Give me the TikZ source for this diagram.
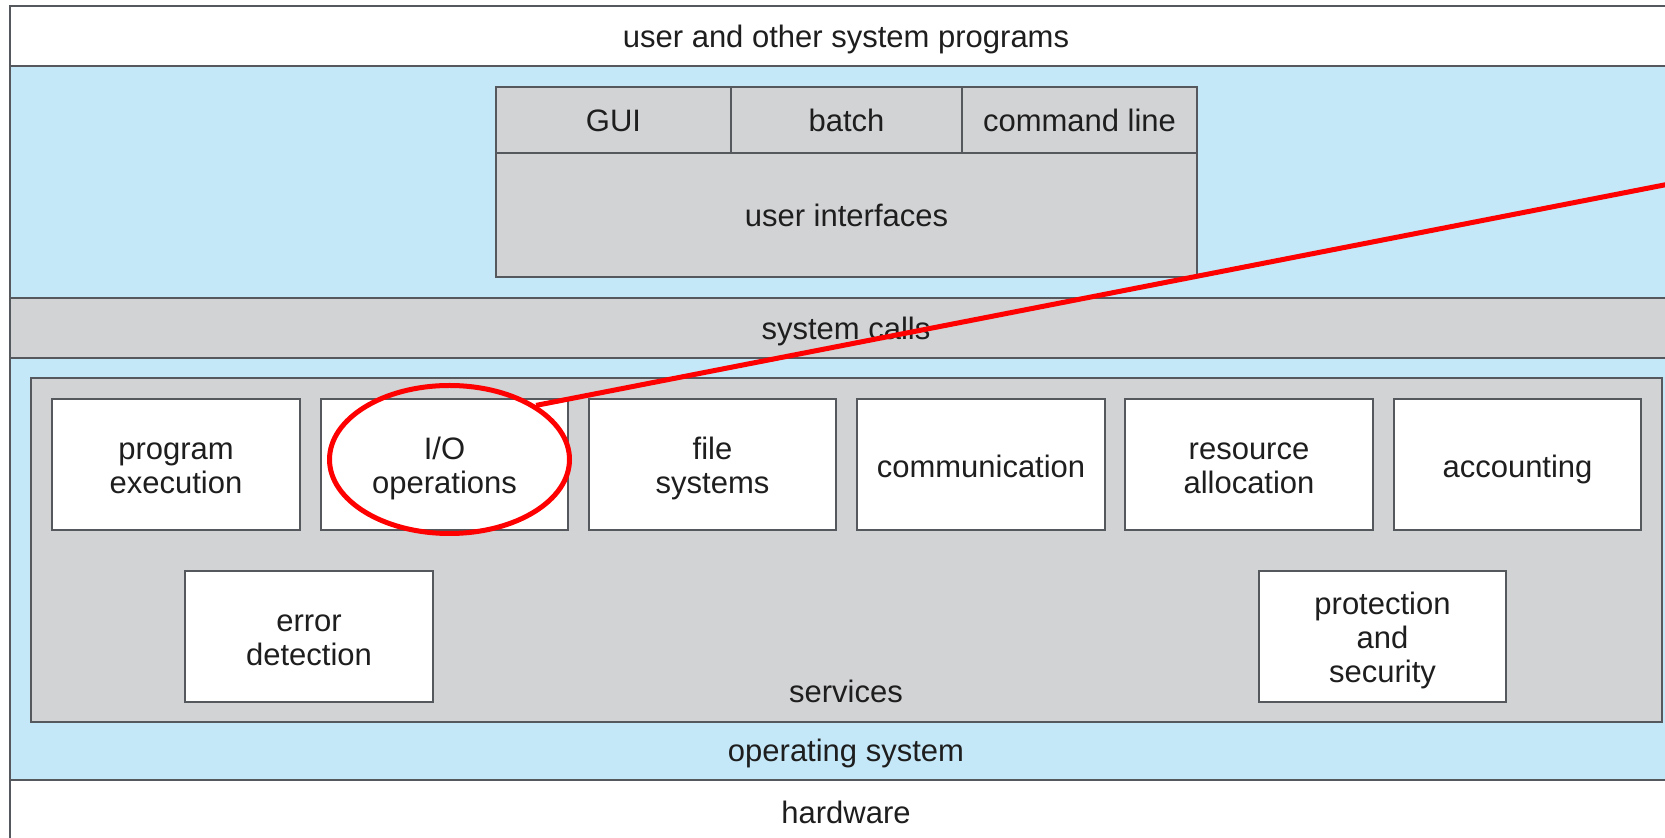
\documentclass[tikz,border=0pt]{standalone}
\usepackage{fontspec}
\setmainfont{Liberation Sans}
\usetikzlibrary{shapes.geometric}
\definecolor{osblue}{RGB}{197,232,248}
\definecolor{sgray}{RGB}{210,211,213}
\definecolor{edgec}{RGB}{85,88,92}
\definecolor{txt}{RGB}{30,30,30}
\newcommand{\firstl}{\rule{0pt}{17pt}}
\begin{document}
\begin{tikzpicture}[x=0.5pt,y=-0.5pt,
  lbl/.style={font={\fontsize{15.5}{17}\selectfont}, text=txt, align=center, inner sep=0pt,
    execute at begin node={\rule{0pt}{17pt}}, execute at end node={\rule[-5.25pt]{0pt}{5.25pt}}},
  band/.style={draw=edgec, line width=1pt, inner sep=0pt},
  svcbox/.style={draw=edgec, line width=1pt, fill=white, minimum width=123.75pt, minimum height=65.5pt, lbl,
    execute at begin node={\rule{0pt}{18.2pt}}},
  uicell/.style={draw=edgec, line width=0.8pt, fill=sgray, minimum height=33pt, lbl},
  redmark/.style={draw=red, line width=2.5pt}
]
\useasboundingbox (0,0) rectangle (1665,838);
% bands
\node[band, fill=osblue, minimum width=836pt, minimum height=358pt] (os) at (846,423) {};
\node[band, fill=white, minimum width=836pt, minimum height=30pt, lbl] (usr) at (846,36) {user and other system programs};
\node[band, fill=white, minimum width=836pt, minimum height=32pt, lbl] (hw) at (846,812) {hardware};
\node[band, fill=sgray, minimum width=836pt, minimum height=30pt, lbl] (sc) at (846,328) {system calls};
\node[lbl] (oslbl) at (846,750) {operating system};
% user interfaces
\node[uicell, minimum width=117.5pt] (gui) at (613.5,120) {GUI};
\node[uicell, minimum width=115.5pt] (batch) at (846.5,120) {batch};
\node[uicell, minimum width=117.5pt] (cmd) at (1079.5,120) {command line};
\node[uicell, minimum width=350.5pt, minimum height=62pt] (ui) at (846.5,215) {user interfaces};
% services
\node[band, fill=sgray, minimum width=815.5pt, minimum height=172pt] (svc) at (846.5,550) {};
\node[lbl] (svclbl) at (846,691) {services};
\node[svcbox] (pe) at (176,464.5) {\firstl program\\execution};
\node[svcbox] (io) at (444.5,464.5) {\firstl I/O\\operations};
\node[svcbox] (fs) at (712.5,464.5) {\firstl file\\systems};
\node[svcbox] (comm) at (981,464.5) {communication};
\node[svcbox] (ra) at (1249,464.5) {\firstl resource\\allocation};
\node[svcbox] (acc) at (1517.5,464.5) {accounting};
\node[svcbox] (ed) at (309,636.5) {\firstl error\\detection};
\node[svcbox] (ps) at (1382.5,636.5) {\firstl protection\\and\\security};
% red highlight
\node[ellipse, redmark, minimum width=120pt, minimum height=74pt, inner sep=0pt] (circ) at (449.5,459.5) {};
\coordinate (tip) at (1700,178);
\draw[redmark] (circ.32) -- (tip);
\end{tikzpicture}
\end{document}
